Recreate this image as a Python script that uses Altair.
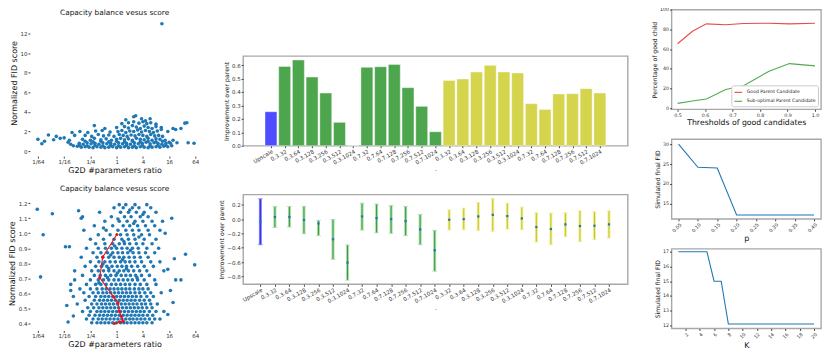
import altair as alt
import pandas as pd

FONT = "DejaVu Sans"
MPL_BLUE = "#1f77b4"

# ---------------- Panel A: top scatter (log2 G2D ratio, normalized FID) ----------------
a_left_tail = [(-6.0, 1.2), (-5.7, 0.75), (-5.5, 1.0), (-5.2, 1.65), (-4.8, 1.15), (-4.6, 1.5),
               (-4.3, 1.3), (-4.0, 1.35), (-3.7, 0.9), (-3.5, 0.7), (-3.6, 1.1), (-3.3, 0.55),
               (-3.4, 1.9), (-3.2, 1.6)]
a_band_low = [(-3.0, 0.5), (-2.7, 0.4), (-2.4, 0.45), (-2.1, 0.4), (-1.8, 0.35), (-1.5, 0.45),
              (-1.2, 0.4), (-0.9, 0.35), (-0.6, 0.4), (-0.3, 0.45), (0.0, 0.35), (0.3, 0.4),
              (0.6, 0.45), (0.9, 0.35), (1.2, 0.4), (1.5, 0.35), (1.8, 0.45), (2.1, 0.4),
              (2.4, 0.35), (2.7, 0.4), (3.0, 0.45), (3.3, 0.4), (3.6, 0.5), (3.9, 0.45),
              (-2.85, 0.6), (-2.25, 0.55), (-1.65, 0.6), (-1.05, 0.55), (-0.45, 0.6), (0.15, 0.55),
              (0.75, 0.6), (1.35, 0.55), (1.95, 0.6), (2.55, 0.55), (3.15, 0.6), (3.75, 0.6)]
a_band_mid = [(-2.85, 0.8), (-2.55, 0.7), (-2.25, 0.85), (-1.95, 0.75), (-1.65, 0.8), (-1.35, 0.7),
              (-1.05, 0.85), (-0.75, 0.75), (-0.45, 0.8), (-0.15, 0.7), (0.15, 0.85), (0.45, 0.75),
              (0.75, 0.8), (1.05, 0.7), (1.35, 0.85), (1.65, 0.75), (1.95, 0.8), (2.25, 0.9),
              (2.55, 0.75), (2.85, 0.85), (3.15, 0.8), (3.45, 0.7), (3.75, 0.8), (4.0, 0.9),
              (-2.4, 1.0), (-1.8, 0.95), (-1.2, 1.0), (-0.6, 0.95), (0.0, 1.0), (0.6, 0.95),
              (1.2, 1.0), (1.8, 0.95), (2.4, 1.0), (3.0, 0.95), (3.5, 1.0)]
a_band_high = [(-2.6, 1.2), (-2.0, 1.1), (-1.7, 1.3), (-1.2, 1.15), (-0.8, 1.25), (-0.4, 1.1),
               (0.0, 1.2), (0.3, 1.3), (0.6, 1.15), (0.9, 1.25), (1.2, 1.1), (1.5, 1.3),
               (1.8, 1.2), (2.1, 1.15), (2.4, 1.3), (2.7, 1.1), (3.0, 1.25), (3.3, 1.2), (3.7, 1.1)]
a_upper = [(-2.4, 1.6), (-1.9, 1.5), (-1.4, 1.7), (-1.0, 1.55), (-0.6, 1.65), (-0.2, 1.5),
           (0.2, 1.7), (0.5, 1.6), (0.8, 1.5), (1.1, 1.65), (1.4, 1.55), (1.7, 1.7), (2.0, 1.6),
           (2.3, 1.5), (2.6, 1.7), (2.9, 1.55), (3.2, 1.6), (3.5, 1.5),
           (-2.8, 2.0), (-2.2, 1.9), (-1.6, 2.05), (-1.1, 2.1), (-0.5, 1.95), (0.1, 2.0),
           (0.4, 2.1), (0.7, 1.9), (1.0, 2.05), (1.3, 2.0), (1.6, 2.15), (1.9, 1.95), (2.2, 2.1),
           (2.5, 2.0), (2.8, 1.9), (3.1, 2.05), (3.4, 2.2), (3.9, 2.0),
           (-1.7, 2.6), (-0.9, 2.3), (0.0, 2.4), (0.6, 2.5), (0.9, 2.35), (1.2, 2.6), (1.5, 2.45),
           (1.8, 2.3), (2.1, 2.55), (2.4, 2.4), (2.7, 2.3), (3.0, 2.5), (3.4, 2.4), (4.3, 2.3),
           (0.4, 2.8), (0.9, 2.9), (1.3, 3.0), (1.7, 2.85), (2.0, 3.0), (2.3, 2.8), (2.6, 2.9),
           (3.0, 2.75), (1.3, 3.5), (1.45, 3.6), (1.9, 3.3), (2.55, 3.3), (2.2, 3.1), (0.7, 3.2)]
a_right_tail = [(4.1, 0.8), (4.3, 1.1), (4.6, 0.85), (4.5, 2.2), (4.9, 2.3), (5.2, 2.85),
                (5.35, 2.9), (5.45, 0.85), (5.9, 0.8), (4.2, 0.55), (3.45, 13.0)]

# ---------------- Panel B: bottom scatter, rows of (score, [log2 ratios]) ----------------
b_rows = [
    (0.405, [-1.9, -1.5, -1.2, -0.9, -0.6, -0.3, 0.0, 0.3, 0.55, 0.8, 1.1, 1.4, 1.7, 2.0, 2.3, 2.7]),
    (0.43, [-2.3, -1.8, -1.4, -1.1, -0.8, -0.5, -0.2, 0.1, 0.4, 0.7, 1.0, 1.25, 1.55, 1.85, 2.15, 2.5, 2.9, 3.3]),
    (0.455, [-2.1, -1.65, -1.3, -1.0, -0.7, -0.4, -0.1, 0.2, 0.5, 0.8, 1.1, 1.4, 1.7, 2.0, 2.35, 2.75]),
    (0.48, [-2.6, -2.0, -1.5, -1.2, -0.9, -0.6, -0.3, 0.0, 0.3, 0.6, 0.9, 1.2, 1.5, 1.8, 2.1, 2.5, 3.0, 3.6]),
    (0.505, [-2.2, -1.75, -1.35, -1.05, -0.75, -0.45, -0.15, 0.15, 0.45, 0.75, 1.05, 1.35, 1.65, 1.95, 2.3, 2.7]),
    (0.53, [-3.0, -1.9, -1.5, -1.15, -0.85, -0.55, -0.25, 0.05, 0.35, 0.65, 0.95, 1.25, 1.55, 1.9, 2.2, 2.6, 3.1]),
    (0.555, [-2.4, -1.7, -1.3, -1.0, -0.7, -0.4, -0.1, 0.2, 0.5, 0.8, 1.1, 1.4, 1.75, 2.1, 2.5]),
    (0.58, [-3.3, -2.1, -1.6, -1.2, -0.9, -0.6, -0.3, 0.0, 0.3, 0.6, 0.9, 1.2, 1.5, 1.85, 2.3, 2.8]),
    (0.605, [-2.5, -1.8, -1.4, -1.05, -0.75, -0.45, -0.15, 0.15, 0.45, 0.75, 1.05, 1.4, 1.75, 2.15, 2.6, 3.4]),
    (0.63, [-2.8, -2.0, -1.5, -1.1, -0.8, -0.5, -0.2, 0.1, 0.4, 0.7, 1.0, 1.35, 1.7, 2.0, 2.4]),
    (0.66, [-3.5, -2.3, -1.6, -1.2, -0.8, -0.4, -0.05, 0.3, 0.65, 1.0, 1.4, 1.8, 2.3, 3.0]),
    (0.69, [-2.0, -1.4, -1.0, -0.6, -0.2, 0.15, 0.5, 0.85, 1.2, 1.6, 2.1, 2.9, 4.5]),
    (0.72, [-2.6, -1.7, -1.25, -0.85, -0.45, -0.05, 0.35, 0.7, 1.05, 1.45, 1.9, 2.5]),
    (0.75, [-3.2, -1.9, -1.4, -1.0, -0.6, -0.2, 0.2, 0.55, 0.9, 1.3, 1.75, 2.3, 3.6]),
    (0.78, [-2.4, -1.6, -1.15, -0.75, -0.35, 0.05, 0.4, 0.75, 1.15, 1.6, 2.1, 2.8]),
    (0.81, [-2.0, -1.35, -0.9, -0.5, -0.1, 0.3, 0.65, 1.0, 1.4, 1.9, 2.6, 3.3]),
    (0.84, [-2.7, -1.5, -1.05, -0.6, -0.2, 0.2, 0.55, 0.95, 1.35, 1.8, 2.4]),
    (0.87, [-1.8, -1.2, -0.7, -0.3, 0.1, 0.45, 0.85, 1.25, 1.7, 2.2, 2.9]),
    (0.90, [-2.3, -1.4, -0.85, -0.4, 0.0, 0.4, 0.8, 1.2, 1.65, 2.3, 3.2]),
    (0.93, [-1.6, -0.9, -0.3, 0.2, 0.6, 1.0, 1.5, 2.0, 2.7]),
    (0.96, [-2.0, -1.0, -0.2, 0.4, 0.9, 1.4, 2.1, 3.0]),
    (0.99, [-1.4, -0.5, 0.3, 0.8, 1.3, 1.9, 2.5]),
    (1.02, [-2.5, -0.8, 0.1, 0.7, 1.2, 1.7, 2.4, 3.3]),
    (1.05, [-1.7, -0.3, 0.5, 1.0, 1.6, 2.2, 2.9]),
    (1.08, [-0.9, 0.2, 0.8, 1.4, 2.0, 2.7, 3.5]),
    (1.11, [-2.6, -0.4, 0.6, 1.1, 1.8, 2.4]),
    (1.14, [-1.3, 0.3, 0.9, 1.5, 2.1, 3.0]),
    (1.17, [-0.2, 0.5, 1.2, 1.7, 2.6]),
    (1.19, [0.2, 0.7, 1.4, 2.3]),
]
b_extra = [(-1.35, 0.67), (-0.7, 0.705), (0.05, 0.735), (0.75, 0.765), (-1.05, 0.795), (0.45, 0.825),
           (-0.45, 0.855), (1.05, 0.885), (-0.15, 0.915), (0.55, 0.945), (1.7, 0.975), (-1.0, 1.035),
           (1.3, 1.065), (0.1, 1.095), (2.0, 1.125), (1.0, 1.155), (-0.6, 0.765), (1.55, 0.705)]
b_outliers = [(-6.05, 1.16), (-4.9, 1.13), (-5.6, 0.99), (-5.8, 0.71), (-3.9, 0.91), (-3.6, 0.91),
              (-2.9, 1.15), (-2.7, 1.1), (-3.2, 0.69), (-3.5, 0.62), (-3.8, 0.52), (-3.3, 0.45),
              (-3.7, 0.41), (4.9, 0.69), (5.25, 0.86), (5.95, 0.79), (4.1, 0.62), (4.3, 0.54),
              (3.9, 0.46), (4.2, 1.1), (3.7, 1.0), (3.9, 0.76), (4.4, 0.83)]
red_x = [0.02, -1.06, -1.29, -0.23, 0.1, 0.2, 0.36, 0.51, 0.23, -0.17]
red_y = [0.992, 0.842, 0.705, 0.577, 0.539, 0.481, 0.448, 0.415, 0.411, 0.40]

ratio_ticks = [-6, -4, -2, 0, 2, 4, 6]
ratio_labels = ["1/64", "1/16", "1/4", "1", "4", "16", "64"]

# ---------------- Panel C/D: bars and error bars ----------------
cfg_labels = ["0.3.32", "0.3.64", "0.3.128", "0.3.256", "0.3.512", "0.3.1024",
              "0.7.32", "0.7.64", "0.7.128", "0.7.256", "0.7.512", "0.7.1024"]
bar_labels = ["Upscale"] + cfg_labels + cfg_labels
bar_groups = ["blue"] + ["green"] * 12 + ["yellow"] * 12
bar_values = [0.253, 0.59, 0.638, 0.511, 0.392, 0.174, 0.0, 0.583, 0.588, 0.605, 0.432, 0.293, 0.104,
              0.486, 0.496, 0.548, 0.598, 0.548, 0.541, 0.313, 0.27, 0.385, 0.387, 0.424, 0.392]
err_mean = [-0.036, 0.029, 0.03, -0.013, -0.06, -0.28, -0.605, 0.038, 0.015, 0.0, -0.027, -0.143, -0.434,
            -0.008, 0.0, 0.038, 0.06, 0.043, 0.01, -0.11, -0.138, -0.073, -0.096, -0.092, -0.073]
err_lo = [-0.356, -0.115, -0.11, -0.203, -0.23, -0.56, -0.85, -0.152, -0.19, -0.198, -0.23, -0.356, -0.726,
          -0.152, -0.147, -0.16, -0.17, -0.138, -0.147, -0.32, -0.356, -0.244, -0.314, -0.286, -0.263]
err_hi = [0.283, 0.177, 0.177, 0.177, -0.018, -0.004, -0.36, 0.223, 0.21, 0.19, 0.177, 0.066, -0.156,
          0.13, 0.154, 0.232, 0.288, 0.223, 0.168, 0.089, 0.084, 0.089, 0.117, 0.103, 0.117]

# ---------------- Panel E/F/G: right column lines ----------------
thr_x = [0.5, 0.554, 0.605, 0.675, 0.74, 0.833, 0.907, 1.0]
good_y = [65.4, 78, 85.6, 84.6, 86, 86.2, 85.6, 86.2]
sub_y = [5, 7.4, 9.4, 19, 22.8, 37.6, 45.3, 43]
p_vals = [0.05, 0.10, 0.15, 0.20, 0.25, 0.30, 0.35, 0.40]
p_fid = [30, 24.2, 24.0, 12.2, 12.2, 12.2, 12.2, 12.2]
k_vals = [1, 2, 3, 4, 5, 6, 7, 8, 9, 10, 11, 12, 13, 14, 15, 16, 17, 18, 19, 20]
k_fid = [17, 17, 17, 17, 17, 15, 15, 12.1, 12.1, 12.1, 12.1, 12.1, 12.1, 12.1, 12.1, 12.1, 12.1, 12.1, 12.1, 12.1]

# ================= build =================
FRAME = alt.ViewBackground(stroke="#a8a8a8", strokeWidth=1.4)
NOFRAME = alt.ViewBackground(stroke="transparent")

ratio_expr = " : ".join(f"datum.value == {v} ? '{l}'" for v, l in zip(ratio_ticks, ratio_labels)) + " : ''"


def ax(title, **kw):
    base = dict(title=title, grid=False, labelFontSize=5.5, titleFontSize=8, titleFontWeight="normal",
                labelColor="#333", tickColor="#444", tickSize=2, labelPadding=1, titlePadding=2,
                domain=False, titleColor="#111", labelOverlap=False)
    base.update(kw)
    return alt.Axis(**base)


def scatter(points, ydom, yticks, height, title_offset, red=None):
    df = pd.DataFrame(points, columns=["x", "y"])
    xs = alt.Scale(domain=[-6.61, 6.30], nice=False, zero=False)
    ys = alt.Scale(domain=ydom, nice=False, zero=False)
    xax = ax("G2D #parameters ratio", values=ratio_ticks, labelExpr=ratio_expr)
    yax = ax("Normalized FID score", values=yticks, titlePadding=1.5)
    pts = alt.Chart(df).mark_circle(size=13, color=MPL_BLUE, opacity=1).encode(
        x=alt.X("x:Q", scale=xs, axis=xax), y=alt.Y("y:Q", scale=ys, axis=yax))
    layers = [pts]
    if red is not None:
        line = alt.Chart(red).mark_line(color="#e8141c", strokeWidth=1.1,
                                        point=alt.OverlayMarkDef(color="#e8141c", size=10, filled=True)).encode(
            x=alt.X("x:Q", scale=xs, axis=xax), y=alt.Y("y:Q", scale=ys, axis=yax), order="o:Q")
        layers.append(line)
    return alt.layer(*layers).properties(
        width=170, height=height, view=NOFRAME,
        title=alt.TitleParams("Capacity balance vesus score", fontSize=7.4, fontWeight="normal",
                              offset=title_offset, color="#111"))


a_pts = a_left_tail + a_band_low + a_band_mid + a_band_high + a_upper + a_right_tail
b_pts = [(x, y) for y, xs in b_rows for x in xs] + b_extra + b_outliers
red_df = pd.DataFrame({"x": red_x, "y": red_y, "o": list(range(len(red_x)))})

chartA = scatter(a_pts, [-0.51, 14.44], [0, 2, 4, 6, 8, 10, 12], 147, -7)
chartB = scatter(b_pts, [0.354, 1.248], [0.4, 0.5, 0.6, 0.7, 0.8, 0.9, 1.0, 1.1, 1.2], 135, 4, red=red_df)

label_arr = "[" + ",".join(f"'{l}'" for l in bar_labels) + "][datum.value]"
grp_scale = alt.Scale(domain=["blue", "green", "yellow"], range=["#4d4dff", "#4da64d", "#d4d44d"])
idx = list(range(len(bar_labels)))

cat_axis = ax(".", values=idx, labelExpr=label_arr, labelAngle=330, labelAlign="right", labelBaseline="top",
              labelFontSize=5.5, titleFontSize=6, titlePadding=0, labelPadding=1)

bar_df = pd.DataFrame({"i": idx, "v": bar_values, "g": bar_groups})
chartC = alt.Chart(bar_df).mark_bar(size=12, stroke="#ffffff", strokeWidth=0.6, strokeOpacity=0.7).encode(
    x=alt.X("i:Q", scale=alt.Scale(domain=[-1.668, 25.67], nice=False, zero=False), axis=cat_axis),
    y=alt.Y("v:Q", scale=alt.Scale(domain=[0, 0.667], nice=False),
            axis=ax("Improvement over parent", values=[0, 0.1, 0.2, 0.3, 0.4, 0.5, 0.6], format=".1f",
                    titleFontSize=6.2)),
    color=alt.Color("g:N", scale=grp_scale, legend=None),
).properties(width=386, height=90, view=FRAME)

err_df = pd.DataFrame({"i": idx, "m": err_mean, "lo": err_lo, "hi": err_hi, "g": bar_groups})
xs_err = alt.Scale(domain=[-1.187, 25.29], nice=False, zero=False)
ys_err = alt.Scale(domain=[-0.907, 0.343], nice=False)
yax_err = ax("Improvement over parent", values=[-0.8, -0.6, -0.4, -0.2, 0.0, 0.2], format=".1f",
             titleFontSize=6.2)
light_scale = alt.Scale(domain=["blue", "green", "yellow"], range=["#7d7dff", "#a8dca8", "#efef9a"])
dark_scale = alt.Scale(domain=["blue", "green", "yellow"], range=["#2b2bdd", "#3a9a3a", "#c4c41e"])
base_err = alt.Chart(err_df).encode(x=alt.X("i:Q", scale=xs_err, axis=cat_axis))
err_light = base_err.mark_rule(strokeWidth=3).encode(
    y=alt.Y("lo:Q", scale=ys_err, axis=yax_err), y2="hi:Q",
    color=alt.Color("g:N", scale=light_scale, legend=None))
err_dark = base_err.mark_rule(strokeWidth=1).encode(
    y=alt.Y("lo:Q", scale=ys_err, axis=yax_err), y2="hi:Q",
    color=alt.Color("g:N", scale=dark_scale, legend=None))
cap_lo = base_err.mark_tick(size=5, thickness=1, orient="horizontal").encode(
    y=alt.Y("lo:Q", scale=ys_err, axis=yax_err), color=alt.Color("g:N", scale=light_scale, legend=None))
cap_hi = base_err.mark_tick(size=5, thickness=1, orient="horizontal").encode(
    y=alt.Y("hi:Q", scale=ys_err, axis=yax_err), color=alt.Color("g:N", scale=light_scale, legend=None))
err_pt = base_err.mark_square(size=5, color=MPL_BLUE, opacity=1).encode(
    y=alt.Y("m:Q", scale=ys_err, axis=yax_err))
chartD = alt.layer(err_light, err_dark, cap_lo, cap_hi, err_pt).resolve_scale(color="independent").properties(
    width=386, height=90, view=FRAME)

spacer = alt.Chart(pd.DataFrame({"v": [0]})).mark_point(opacity=0).encode(
    x=alt.value(0), y=alt.value(0)).properties(width=391, height=1,
                                              view=alt.ViewBackground(fill="white", stroke="transparent"))

thr_df = pd.DataFrame({
    "x": thr_x + thr_x,
    "y": good_y + sub_y,
    "s": ["Good Parent Candidate"] * len(thr_x) + ["Sub-optimal Parent Candidate"] * len(thr_x),
})
small = dict(labelFontSize=4.8, titleFontSize=6.2, tickSize=2)
chartE = alt.Chart(thr_df).mark_line(strokeWidth=1.1).encode(
    x=alt.X("x:Q", scale=alt.Scale(domain=[0.478, 1.022], nice=False, zero=False),
            axis=ax("Thresholds of good candidates", values=[0.5, 0.6, 0.7, 0.8, 0.9, 1.0], format=".1f",
                    **{**small, "titleFontSize": 7.8})),
    y=alt.Y("y:Q", scale=alt.Scale(domain=[-1, 100], nice=False),
            axis=ax("Percentage of good child", values=[0, 20, 40, 60, 80, 100], **small)),
    color=alt.Color("s:N", scale=alt.Scale(domain=["Good Parent Candidate", "Sub-optimal Parent Candidate"],
                                           range=["#e84a4a", "#4fab4f"]),
                    legend=alt.Legend(title=None, orient="bottom-right", symbolType="stroke", labelFontSize=4.6,
                                      symbolSize=60, symbolStrokeWidth=1.1, padding=2.5, offset=3,
                                      strokeColor="#cccccc", fillColor="white", cornerRadius=2, rowPadding=2,
                                      labelColor="#222", labelFont=FONT)),
).properties(width=150, height=100, view=FRAME)

rot = dict(labelAngle=315, labelAlign="right", labelBaseline="top")
chartF = alt.Chart(pd.DataFrame({"p": p_vals, "f": p_fid})).mark_line(color=MPL_BLUE, strokeWidth=1.1).encode(
    x=alt.X("p:Q", scale=alt.Scale(domain=[0.032, 0.418], nice=False, zero=False),
            axis=ax("p", values=p_vals, format=".2f", **{**small, "titleFontSize": 8}, **rot)),
    y=alt.Y("f:Q", scale=alt.Scale(domain=[11.25, 31.25], nice=False, zero=False),
            axis=ax("Simulated final FID", values=[15, 20, 25, 30], **small)),
).properties(width=150, height=80, view=FRAME)

chartG = alt.Chart(pd.DataFrame({"k": k_vals, "f": k_fid})).mark_line(color=MPL_BLUE, strokeWidth=1.1).encode(
    x=alt.X("k:Q", scale=alt.Scale(domain=[0.05, 20.97], nice=False, zero=False),
            axis=ax("K", values=[2, 4, 6, 8, 10, 12, 14, 16, 18, 20], **{**small, "titleFontSize": 8}, **rot)),
    y=alt.Y("f:Q", scale=alt.Scale(domain=[11.8, 17.2], nice=False, zero=False),
            axis=ax("Simulated final FID", values=[12, 13, 14, 15, 16, 17], **small)),
).properties(width=150, height=80, view=FRAME)

col1 = alt.vconcat(chartA, chartB, spacing=40, bounds="flush")
inner2 = alt.vconcat(chartC, chartD, spacing=49, bounds="flush").resolve_scale(color="independent")
col2 = alt.vconcat(spacer, inner2, spacing=41.6).resolve_scale(color="independent")
col3 = alt.vconcat(chartE, chartF, chartG, spacing=30, bounds="flush").resolve_scale(color="independent")

chart = alt.hconcat(col1, col2, col3, spacing=17).resolve_scale(color="independent").properties(
    padding={"top": -3, "left": 0, "right": 0, "bottom": 0}).configure(font=FONT).configure_axis(
    labelFont=FONT, titleFont=FONT).configure_title(font=FONT).configure_legend(labelFont=FONT)

chart.save("out.html", embed_options={"renderer": "svg", "actions": False})
